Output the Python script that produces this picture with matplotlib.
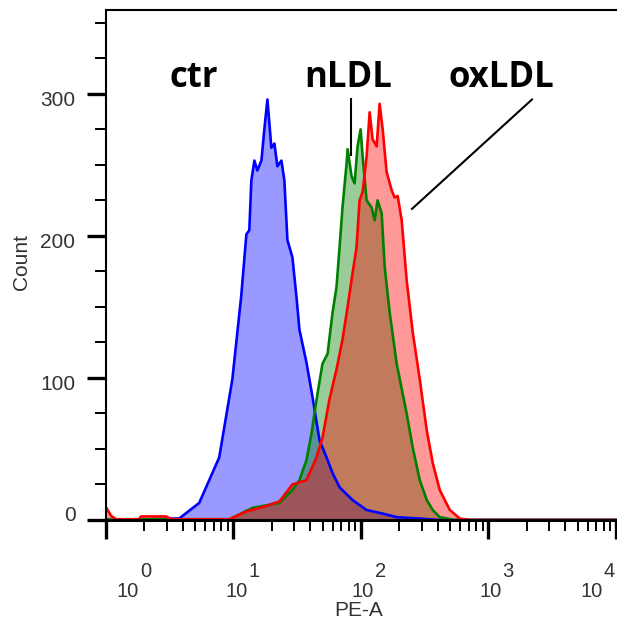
# Flow cytometry overlay: PE-A histograms for ctr, nLDL and oxLDL

import numpy as np
import matplotlib
matplotlib.use('Agg')
import matplotlib.pyplot as plt
import matplotlib.transforms as mtransforms

plt.rcParams['font.family'] = ['Liberation Sans', 'DejaVu Sans']

# Data (PE-A as log10 value, counts per bin)
ctr_log = [0.0, 0.338, 0.495, 0.574, 0.731, 0.888, 0.991, 1.061, 1.101, 1.124,
           1.140, 1.164, 1.187, 1.219, 1.242, 1.266, 1.297, 1.321, 1.344, 1.376,
           1.399, 1.423, 1.462, 1.494, 1.517, 1.572, 1.619, 1.675, 1.730, 1.777,
           1.832, 1.934, 2.044, 2.146, 2.280, 2.461, 2.618, 4.01]
ctr_count = [0, 0.5, 1, 1, 12, 44, 99, 158, 201, 204,
             239, 253, 246, 253, 275, 296, 262, 265, 249, 253,
             239, 197, 185, 157, 134, 111, 87, 56, 44, 33,
             23, 14, 7, 5, 2, 1, 0, 0]

nldl_log = [0.0, 0.967, 1.148, 1.360, 1.462, 1.517, 1.572, 1.612, 1.635, 1.659,
            1.698, 1.738, 1.777, 1.808, 1.832, 1.855, 1.887, 1.895, 1.926, 1.950,
            1.973, 1.997, 2.013, 2.044, 2.083, 2.107, 2.130, 2.162, 2.186, 2.225,
            2.280, 2.358, 2.406, 2.461, 2.516, 2.563, 2.618, 2.736, 4.01]
nldl_count = [0.5, 0.5, 8.5, 12, 21, 28, 42, 61, 75, 89,
              110, 117, 146, 164, 192, 220, 251, 261, 242, 237,
              263, 275, 256, 225, 220, 211, 225, 216, 178, 146,
              110, 75, 51, 28, 14, 7, 2, 0, 0]

oxldl_log = [0.0, 0.039, 0.079, 0.259, 0.275, 0.472, 0.511,
             0.967, 1.101, 1.226, 1.360, 1.462, 1.572,
             1.651, 1.698, 1.753, 1.808, 1.855, 1.895, 1.926, 1.965, 1.989, 2.013,
             2.044, 2.068, 2.091, 2.123, 2.146, 2.170, 2.201, 2.241, 2.264, 2.288,
             2.319, 2.358, 2.406, 2.461, 2.516, 2.563, 2.618, 2.697, 2.775, 2.854, 4.01]
oxldl_count = [9, 3, 0.5, 0.5, 2.5, 2.5, 0.5,
               0.5, 6, 9, 13, 25, 28,
               44, 58, 85, 106, 127, 150, 169, 192, 225, 231,
               256, 287, 268, 263, 293, 275, 245, 232, 227, 228,
               211, 169, 132, 99, 63, 40, 21, 7, 1, 0, 0]

series = [(ctr_log, ctr_count, 'blue'),
          (nldl_log, nldl_count, 'green'),
          (oxldl_log, oxldl_count, 'red')]

y_ticks = [0, 100, 200, 300]
decades = [0, 1, 2, 3, 4]

# Figure
W, H = 617, 624
fig = plt.figure(figsize=(W / 100, H / 100), dpi=100)
ax = fig.add_axes([106 / W, (H - 521.4) / H, (W - 106) / W, (521.4 - 10) / H])

for lg, cnt, col in series:
    x = 10 ** np.array(lg)
    ax.fill_between(x, cnt, 0, color=col, alpha=0.4, linewidth=0)
    ax.plot(x, cnt, color=col, linewidth=1.9)

ax.set_xscale('log')
ax.set_xlim(1, 10 ** 4.008)
ax.set_ylim(-1, 359)

# Spines and ticks
ax.spines['right'].set_visible(False)
ax.spines['left'].set_linewidth(1.5)
ax.spines['top'].set_linewidth(1.5)
ax.spines['bottom'].set_linewidth(2.2)
ax.spines['bottom'].set_position(('data', 0))

ax.set_yticks(y_ticks)
ax.set_yticks(np.arange(0, 360, 25), minor=True)
ax.tick_params(axis='y', which='major', length=14, width=2.4, pad=8,
               labelsize=15, labelcolor='#333333', direction='out')
ax.tick_params(axis='y', which='minor', length=8, width=1.4, direction='out')
ax.tick_params(axis='x', which='major', length=14, width=2.4, direction='out',
               labelbottom=False)
ax.tick_params(axis='x', which='minor', length=8, width=1.4, direction='out',
               labelbottom=False)
ax.xaxis.set_minor_locator(matplotlib.ticker.LogLocator(base=10, subs=np.arange(2, 10)))

# shift y tick labels like the original software does
for lab, t in zip(ax.get_yticklabels(), y_ticks):
    dy = 6 if t == 0 else -5
    lab.set_transform(lab.get_transform() + mtransforms.ScaledTranslation(0, dy / 100, fig.dpi_scale_trans))

# x tick labels 10^n with big raised exponents
label_dx = [22, 3, 2, 2, -24]
for d, dx in zip(decades, label_dx):
    ax.annotate('10', xy=(10 ** d, 0), xycoords=('data', 'axes fraction'),
                xytext=(dx, -70), textcoords='offset pixels', ha='center', va='center',
                fontsize=14.5, color='#333333', annotation_clip=False)
    ax.annotate(str(d), xy=(10 ** d, 0), xycoords=('data', 'axes fraction'),
                xytext=(dx + 12, -50), textcoords='offset pixels', ha='left', va='center',
                fontsize=14.5, color='#333333', annotation_clip=False)

fig.text(359 / W, 1 - 610 / H, 'PE-A', ha='center', va='center', fontsize=15, color='#333333')
fig.text(22 / W, 1 - 262 / H, 'Count', ha='center', va='center', rotation=90,
         fontsize=15, color='#333333')

# Sample labels
lab_font = dict(fontsize=25, fontweight='bold', family='Open Sans', ha='center', va='baseline')
ax.text(10 ** 0.69, 305, 'ctr', **lab_font)
ax.text(10 ** 1.898, 305, 'nLDL', **lab_font)
ax.text(10 ** 3.098, 305, 'oxLDL', **lab_font)
ax.plot([10 ** 1.922, 10 ** 1.922], [296, 257], color='black', linewidth=1.5)
ax.plot([10 ** 3.341, 10 ** 2.40], [296, 219], color='black', linewidth=1.5)

plt.savefig('out.png', dpi=100)
